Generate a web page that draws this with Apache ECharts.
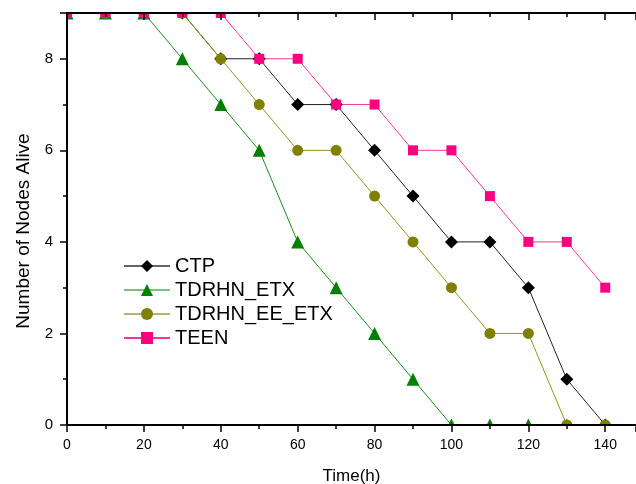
<!DOCTYPE html>
<html><head><meta charset="utf-8">
<script src="https://cdn.jsdelivr.net/npm/echarts@6/dist/echarts.min.js"></script>
<style>html,body{margin:0;padding:0;background:#fff}#c{width:636px;height:484px}</style>
</head><body><div id="c"></div>
<script>
const times = [0,10,20,30,40,50,60,70,80,90,100,110,120,130,140];
const ctp = [9,9,9,9,8,8,7,7,6,5,4,4,3,1,0];
const tdrhnEtx = [9,9,9,8,7,6,4,3,2,1,0,0,0,0,0];
const tdrhnEeEtx = [9,9,9,9,8,7,6,6,5,4,3,2,2,0,0];
const teen = [9,9,9,9,9,8,8,7,7,6,6,5,4,4,3];
const seriesNames = ['CTP','TDRHN_ETX','TDRHN_EE_ETX','TEEN'];
const xTickLabels = ['0','20','40','60','80','100','120','140'];
const yTickLabels = ['0','2','4','6','8'];

const pair = arr => times.map((t,i)=>[t,arr[i]]);
const font = 'Liberation Sans, Arial, sans-serif';
function mk(name, data, sym, size, mcol, lcol){
  return {name, type:'line', data:pair(data), symbol:sym, symbolSize:size,
    itemStyle:{color:mcol}, lineStyle:{color:lcol, width:1}, clip:false, z:2};
}
const legendLine = ['#666666','#7cc07c','#b4b46a','#ff3399'];
const axisCommon = {
  axisLine:{show:true, lineStyle:{color:'#000', width:2}},
  splitLine:{show:false}, z:200
};
const chart = echarts.init(document.getElementById('c'), null, {renderer:'canvas'});
chart.setOption({
  animation:false,
  grid:{left:67, right:0, top:13, bottom:59, containLabel:false, outerBoundsMode:'none'},
  graphic:{elements:[
    {type:'rect', z:100, zlevel:0, shape:{x:0,y:0,width:636,height:12}, style:{fill:'#fff'}},
    {type:'rect', z:100, zlevel:0, shape:{x:0,y:0,width:66,height:484}, style:{fill:'#fff'}},
    {type:'rect', z:100, zlevel:0, shape:{x:0,y:426,width:636,height:58}, style:{fill:'#fff'}}
  ]},
  legend:{left:118, top:251, orient:'vertical', itemWidth:46, itemHeight:15, itemGap:4,
    textStyle:{fontFamily:font, fontSize:20, color:'#000'},
    data:seriesNames.map((n,i)=>({name:n, lineStyle:{color:legendLine[i], width:2}}))},
  xAxis:[Object.assign({type:'value', min:0, max:148, interval:20, position:'bottom',
    name:'Time(h)', nameLocation:'middle', nameGap:43,
    nameTextStyle:{fontFamily:font, fontSize:17, color:'#000'},
    axisTick:{show:true, inside:false, length:7, lineStyle:{color:'#000', width:1.5}},
    minorTick:{show:true, splitNumber:2, length:4, lineStyle:{color:'#000', width:1.5}},
    axisLabel:{fontFamily:font, fontSize:14, color:'#000', margin:13, showMaxLabel:false,
      formatter:v=>{const s=String(v); return xTickLabels.includes(s)?s:'';}}}, axisCommon),
   Object.assign({type:'value', min:0, max:148, interval:20, position:'top',
    axisTick:{show:true, inside:true, length:7, lineStyle:{color:'#000', width:1.5}},
    minorTick:{show:true, splitNumber:2, length:4, lineStyle:{color:'#000', width:1.5}},
    axisLabel:{show:false}}, axisCommon)],
  yAxis:Object.assign({type:'value', min:0, max:9, interval:2,
    name:'Number of Nodes Alive', nameLocation:'middle', nameGap:33, nameRotate:90,
    nameTextStyle:{fontFamily:font, fontSize:19, color:'#000', padding:[0,24,0,0]},
    axisTick:{show:true, inside:false, length:7, lineStyle:{color:'#000', width:1.5}},
    minorTick:{show:true, splitNumber:2, length:4, lineStyle:{color:'#000', width:1.5}},
    axisLabel:{fontFamily:font, fontSize:15, color:'#000', margin:14, showMaxLabel:false,
      formatter:v=>{const s=String(v); return yTickLabels.includes(s)?s:'';}}}, axisCommon),
  series:[
    mk('CTP', ctp, 'diamond', 13, '#000000', '#222222'),
    mk('TDRHN_ETX', tdrhnEtx, 'triangle', 13, '#008000', '#1a8f1a'),
    mk('TDRHN_EE_ETX', tdrhnEeEtx, 'circle', 11, '#808000', '#959520'),
    mk('TEEN', teen, 'rect', 10, '#FF0080', '#FF3399')
  ]
});
</script></body></html>
